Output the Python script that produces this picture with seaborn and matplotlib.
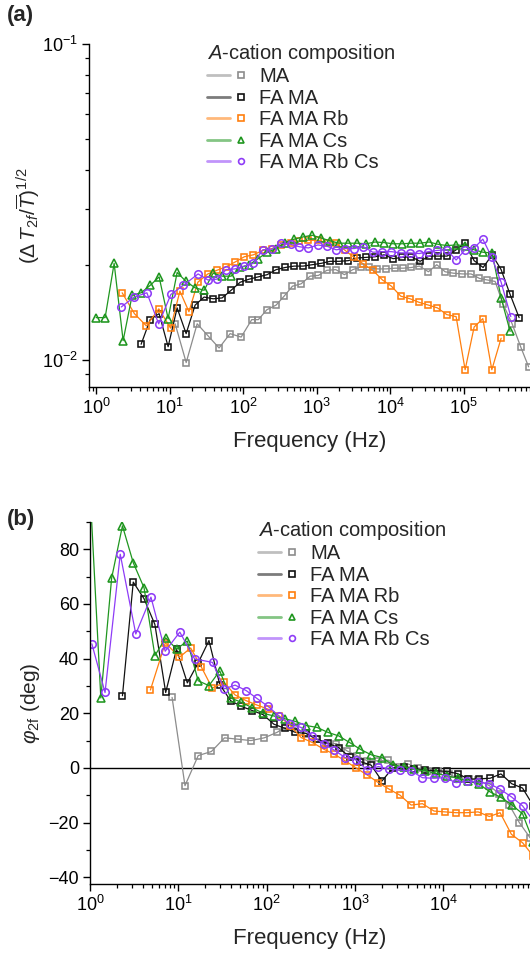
import numpy as np
import pandas as pd
import matplotlib
matplotlib.use("Agg")
import matplotlib.pyplot as plt
import seaborn as sns
from matplotlib.lines import Line2D
from matplotlib.legend_handler import HandlerTuple
from matplotlib.ticker import LogLocator, NullFormatter, MultipleLocator, FixedLocator

# ---------------- data ----------------
# sweep grid (Hz) used by FA MA and FA MA Cs
freq_grid = [1.0, 1.326, 1.758, 2.330, 3.089, 4.095, 5.429, 7.197, 9.541, 12.65,
             16.77, 22.23, 29.47, 39.07, 51.79, 68.66, 91.03, 120.7, 160.0, 212.1,
             281.2, 372.8, 494.2, 655.1, 868.5, 1151, 1526, 2024, 2683, 3556,
             4715, 6251, 8286, 10985, 14563, 19307, 25595, 33932, 44984, 59636,
             79060, 104811, 138950, 184207, 244205, 323746, 429193, 568987, 754312]

# sweeps of the Rb-containing samples and of MA (Hz)
freq_rbcs = [1.05, 1.48, 2.2, 3.3, 4.9, 7.1, 10.4, 15.3, 24.4, 33.1, 43.9, 58.7, 77.8,
             104, 138, 185, 246, 329, 446, 583, 773, 1038, 1376, 1842, 2442, 3237, 4332,
             5815, 7858, 10420, 13980, 18720, 24810, 33200, 44020, 59070, 79060, 104800,
             139000, 182500, 241900, 323700, 438700]
freq_rb = [2.26, 3.32, 4.83, 7.13, 10.3, 13.8, 18.3, 24.2, 33.1, 43.9, 58.7, 77.8, 104,
           138, 185, 246, 329, 446, 583, 773, 1038, 1376, 1842, 2442, 3237, 4332, 5815,
           7858, 10420, 13980, 18720, 24810, 33200, 44020, 59070, 79060, 104800, 139000,
           182500, 241900, 323700]
freq_ma = [8.5, 11.9, 16.8, 23.7, 33.4, 47.1, 66.5, 94.0, 131, 161, 210, 281, 361, 469,
           615, 816, 1057, 1377, 1824, 2388, 3110, 4030, 5225, 6710, 8830, 11700, 15170,
           19500, 25060, 33200, 43150, 55960, 72600, 96300, 126500, 164000, 209000,
           268500, 344400, 457000, 596700, 766000]

# panel (a): (dT2f / T)^(1/2)
amp_ma = [0.0130, 0.0098, 0.0130, 0.0119, 0.0109, 0.0121, 0.0118, 0.0134, 0.0134,
          0.0144, 0.0149, 0.0159, 0.0171, 0.0174, 0.0184, 0.0185, 0.0192, 0.0193, 0.0186,
          0.0193, 0.0197, 0.0196, 0.0194, 0.0194, 0.0195, 0.0195, 0.0196, 0.0198, 0.0190,
          0.0200, 0.0190, 0.0188, 0.0187, 0.0187, 0.0181, 0.0179, 0.0177, 0.0150, 0.0130,
          0.0110, 0.0095]                                   # freq_ma[1:]
amp_fama = [0.0112, 0.0134, 0.0140, 0.0110, 0.0146, 0.0121, 0.0149, 0.0158, 0.0156,
            0.0157, 0.0166, 0.0176, 0.0180, 0.0183, 0.0186, 0.0193, 0.0196, 0.0198,
            0.0198, 0.0200, 0.0202, 0.0205, 0.0205, 0.0206, 0.0210, 0.0211, 0.0212,
            0.0215, 0.0209, 0.0211, 0.0212, 0.0205, 0.0213, 0.0213, 0.0213, 0.0223,
            0.0234, 0.0206, 0.0196, 0.0215, 0.0193, 0.0161, 0.0136]   # freq_grid[5:48]
amp_rb = [0.0163, 0.0140, 0.0128, 0.0145, 0.0126, 0.0165, 0.0142, 0.0176, 0.0187,
          0.0192, 0.0197, 0.0204, 0.0212, 0.0215, 0.0222, 0.0225, 0.0231, 0.0234, 0.0237,
          0.0239, 0.0239, 0.0235, 0.0234, 0.0222, 0.0211, 0.0201, 0.0192, 0.0179, 0.0171,
          0.0159, 0.0156, 0.0152, 0.0149, 0.0146, 0.0139, 0.0137, 0.0093, 0.0127, 0.0135,
          0.0093, 0.0117]                                   # freq_rb
amp_cs = [0.0136, 0.0136, 0.0202, 0.0115, 0.0160, 0.0163, 0.0172, 0.0183, 0.0135,
          0.0189, 0.0177, 0.0169, 0.0166, 0.0188, 0.0184, 0.0184, 0.0196, 0.0200, 0.0209,
          0.0219, 0.0225, 0.0235, 0.0241, 0.0245, 0.0248, 0.0243, 0.0238, 0.0234, 0.0234,
          0.0234, 0.0233, 0.0236, 0.0235, 0.0233, 0.0233, 0.0234, 0.0234, 0.0236, 0.0232,
          0.0230, 0.0231, 0.0230, 0.0223, 0.0219, 0.0218, 0.0157, 0.0123]  # freq_grid[0:47]
amp_rbcs = [0.0147, 0.0158, 0.0163, 0.0130, 0.0161, 0.0172, 0.0187, 0.0179, 0.0180,
            0.0193, 0.0194, 0.0198, 0.0202, 0.0223, 0.0224, 0.0234, 0.0232, 0.0228,
            0.0226, 0.0231, 0.0229, 0.0223, 0.0225, 0.0225, 0.0228, 0.0219, 0.0220,
            0.0220, 0.0218, 0.0218, 0.0217, 0.0220, 0.0222, 0.0223, 0.0207, 0.0223,
            0.0226, 0.0241, 0.0211, 0.0176, 0.0137]         # freq_rbcs[2:]

# panel (b): phase (deg)
ph_ma = [25.8, -6.5, 4.5, 6.0, 11.0, 10.5, 10.0, 11.0, 13.0, 14.8, 14.8, 12.5, 10.5,
         8.9, 8.9, 6.2, 4.5, 2.6, 2.6, 2.8, 0.4, 1.4, -0.1, -1.2, -1.1, -2.3, -4.1,
         -4.1, -4.5, -6.5, -9.5, -13.6, -20.0, -25.6]       # freq_ma[0:34]
ph_fama = [26.4, 68.0, 61.9, 52.5, 27.6, 43.5, 31.1, 38.4, 46.6, 30.5, 24.6, 22.5,
           21.0, 19.5, 16.0, 14.5, 13.0, 12.6, 10.5, 9.0, 7.4, 4.0, 2.3, 1.0, -4.8, 0.0,
           0.3, -0.3, -0.8, -1.0, -1.3, -2.1, -4.1, -4.0, -3.8, -2.2, -5.8, -7.4,
           -13.9]                                           # freq_grid[3:42]
ph_rb = [28.5, 45.8, 40.5, 43.9, 36.8, 29.2, 31.3, 26.7, 24.6, 23.0, 21.5, 19.0, 15.5,
         11.1, 9.3, 6.8, 5.0, 2.6, -0.1, -2.6, -5.4, -7.8, -10.0, -13.6, -13.1, -15.8,
         -16.1, -16.4, -16.4, -16.1, -17.8, -16.4, -24.3, -27.4, -32.3]  # freq_rb[2:37]
ph_cs = [102.0, 25.6, 69.5, 88.6, 75.1, 65.9, 41.1, 47.6, 43.5, 46.4, 31.9, 30.1,
         35.5, 25.6, 24.0, 22.0, 20.0, 19.0, 18.0, 17.0, 15.5, 14.8, 13.0, 11.7, 9.3,
         6.8, 4.8, 3.8, 1.1, 0.4, -0.5, -1.1, -2.0, -2.9, -3.8, -4.8, -6.0, -8.8,
         -10.8, -13.5, -16.8, -27.0]                        # freq_grid[0:42]
ph_rbcs = [45.4, 27.6, 78.2, 49.0, 62.5, 42.7, 49.7, 39.9, 38.6, 28.9, 30.3, 28.3,
           25.4, 22.5, 19.0, 16.0, 14.8, 11.7, 8.7, 6.5, 3.8, 2.9, -0.8, 0.5, -0.5,
           -0.8, -1.1, -3.6, -3.8, -3.6, -5.4, -4.9, -5.2, -5.8, -7.8, -10.6, -13.9,
           -19.4]                                           # freq_rbcs[0:38]

labels = ["MA", "FA MA", "FA MA Rb", "FA MA Cs", "FA MA Rb Cs"]
colors = ["#8c8c8c", "#111111", "#ff7f0e", "#1f961f", "#8e3cf7"]
markers = ["s", "s", "s", "^", "o"]
msizes = [4.6, 4.6, 4.6, 5.6, 5.4]

amp_series = [(freq_ma[1:], amp_ma), (freq_grid[5:48], amp_fama), (freq_rb, amp_rb),
              (freq_grid[0:47], amp_cs), (freq_rbcs[2:], amp_rbcs)]
ph_series = [(freq_ma[0:34], ph_ma), (freq_grid[3:42], ph_fama), (freq_rb[2:37], ph_rb),
             (freq_grid[0:42], ph_cs), (freq_rbcs[0:38], ph_rbcs)]

# ---------------- style ----------------
sns.set_theme(style="ticks")
plt.rcParams["font.family"] = ["Liberation Sans", "DejaVu Sans"]
plt.rcParams["mathtext.fontset"] = "custom"
plt.rcParams["mathtext.rm"] = "Liberation Sans"
plt.rcParams["mathtext.it"] = "Liberation Sans:italic"
plt.rcParams["mathtext.bf"] = "Liberation Sans:bold"
plt.rcParams["axes.linewidth"] = 1.0
plt.rcParams["axes.edgecolor"] = "black"

W, H = 530, 959
fig = plt.figure(figsize=(W / 100, H / 100), dpi=100)
ax_a = fig.add_axes([89 / W, 1 - 387 / H, 441 / W, (387 - 44) / H])
ax_b = fig.add_axes([90 / W, 1 - 884 / H, 440 / W, (884 - 522) / H])

for ax in (ax_a, ax_b):
    ax.set_xscale("log")

def draw(ax, series):
    for (f, v), c, m, ms in zip(series, colors, markers, msizes):
        df = pd.DataFrame({"f": f, "v": v})
        sns.lineplot(data=df, x="f", y="v", ax=ax, color=c, linewidth=0.9,
                     marker=m, markersize=ms, markerfacecolor="none",
                     markeredgecolor=c, markeredgewidth=1.15,
                     estimator=None, sort=False, legend=False)

ax_b.axhline(0, color="black", linewidth=1.0, zorder=1.5)
draw(ax_a, amp_series)
draw(ax_b, ph_series)

# axes (a)
ax_a.set_yscale("log")
ax_a.set_xlim(0.8, 8e5)
ax_a.set_ylim(0.0082, 0.1)
ax_a.xaxis.set_major_locator(FixedLocator([1, 10, 100, 1e3, 1e4, 1e5]))
ax_a.xaxis.set_minor_locator(LogLocator(base=10, subs=np.arange(2, 10), numticks=20))
ax_a.xaxis.set_minor_formatter(NullFormatter())
ax_a.yaxis.set_major_locator(FixedLocator([0.01, 0.1]))
ax_a.yaxis.set_minor_locator(LogLocator(base=10, subs=np.arange(2, 10), numticks=20))
ax_a.yaxis.set_minor_formatter(NullFormatter())
ax_a.set_ylabel(r"$(\Delta\, T_{2f}/\overline{T})^{1/2}$", fontsize=15, va="center")
ax_a.yaxis.set_label_coords((28 - 89) / 441, 0.5)

# axes (b)
ax_b.set_xlim(1, 9.6e4)
ax_b.set_ylim(-42.5, 90)
ax_b.xaxis.set_major_locator(FixedLocator([1, 10, 100, 1e3, 1e4]))
ax_b.xaxis.set_minor_locator(LogLocator(base=10, subs=np.arange(2, 10), numticks=20))
ax_b.xaxis.set_minor_formatter(NullFormatter())
ax_b.yaxis.set_major_locator(MultipleLocator(20))
ax_b.yaxis.set_minor_locator(MultipleLocator(10))
ax_b.set_ylabel(r"$\varphi_{\mathrm{2f}}$ (deg)", fontsize=15, va="center")
ax_b.yaxis.set_label_coords((30 - 90) / 440, 0.5)

for ax in (ax_a, ax_b):
    ax.set_xlabel("Frequency (Hz)", fontsize=16, labelpad=9)
    for s in ("top", "right"):
        ax.spines[s].set_visible(False)
    ax.tick_params(which="major", direction="out", length=5, width=1.0,
                   labelsize=13, colors="black", pad=3)
    ax.tick_params(which="minor", direction="out", length=3, width=0.9, colors="black")
    ax.grid(False)

# legends
def make_legend(ax, x_px, y_px):
    handles = []
    for c, m in zip(colors, markers):
        ln = Line2D([], [], color=c, linewidth=2.0, alpha=0.55)
        mk = Line2D([], [], linestyle="none", marker=m, markersize=4.2,
                    markerfacecolor="none", markeredgecolor=c, markeredgewidth=1.2)
        handles.append((ln, mk))
    leg = ax.legend(handles, labels, handler_map={tuple: HandlerTuple(ndivide=None)},
                    title=r"$\mathit{A}$-cation composition", loc="upper left",
                    bbox_to_anchor=(x_px / W, 1 - y_px / H),
                    bbox_transform=fig.transFigure, frameon=False, fontsize=14.5,
                    title_fontsize=14.5, handlelength=2.25, handletextpad=0.35,
                    labelspacing=0.12, borderpad=0, borderaxespad=0, alignment="left")
    return leg

make_legend(ax_a, 207, 42)
make_legend(ax_b, 258, 519)

fig.text(7 / W, 1 - 15 / H, "(a)", fontsize=16, fontweight="bold", ha="left", va="center")
fig.text(7 / W, 1 - 520 / H, "(b)", fontsize=16, fontweight="bold", ha="left", va="center")

fig.savefig("out.png", dpi=100)
